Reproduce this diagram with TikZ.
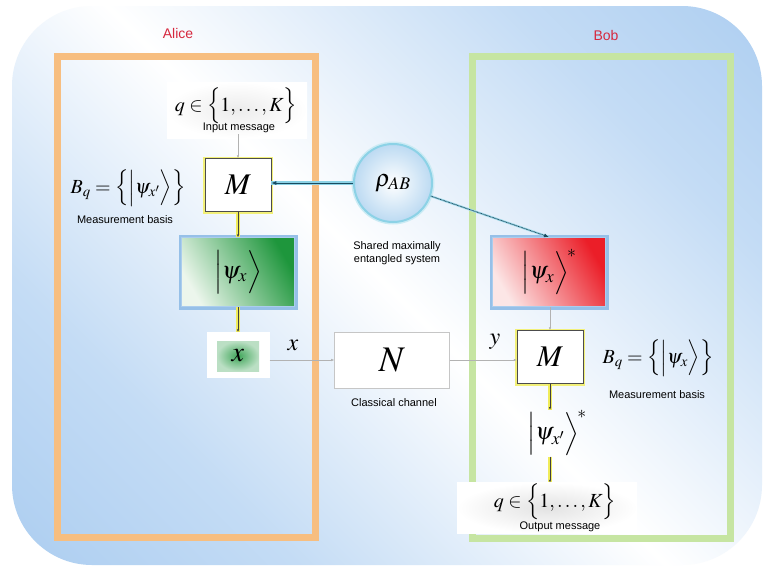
\documentclass[tikz,border=0pt]{standalone}
\usepackage{mathptmx}
\usepackage{fontspec}
\setmainfont{Liberation Sans}
\usetikzlibrary{arrows.meta}
\definecolor{bgblue}{RGB}{150,192,236}
\definecolor{bgmid}{RGB}{196,220,245}
\definecolor{alicered}{RGB}{214,40,62}
\definecolor{frameorange}{RGB}{247,190,128}
\definecolor{framegreen}{RGB}{198,229,162}
\definecolor{mborder}{RGB}{242,240,120}
\definecolor{glowblue}{RGB}{150,192,232}
\definecolor{boxgreen}{RGB}{30,150,60}
\definecolor{boxgreenlight}{RGB}{236,246,236}
\definecolor{boxred}{RGB}{235,30,40}
\definecolor{boxredlight}{RGB}{252,230,230}
\definecolor{tealdark}{RGB}{25,75,95}
\definecolor{glowcyan}{RGB}{140,210,230}
\definecolor{ballblue}{RGB}{188,218,242}
\definecolor{yband}{RGB}{240,236,90}
\pgfdeclarehorizontalshading{bgdiag}{100bp}{color(0bp)=(bgblue); color(30bp)=(bgmid); color(50bp)=(white); color(72bp)=(bgmid); color(100bp)=(bgblue)}
\begin{document}
\begin{tikzpicture}[x=1pt,y=-1pt,
  smalltext/.style={font=\fontsize{11}{13}\selectfont, inner sep=1pt},
  partylabel/.style={font=\fontsize{14}{16}\selectfont, text=alicered, inner sep=1pt},
  mathlabel/.style={font=\fontsize{20}{24}\selectfont, inner sep=1pt},
  mbox/.style={draw=gray!60!black, line width=0.5pt, fill=white, minimum width=66pt, minimum height=53pt, inner sep=0pt,
    preaction={draw=mborder, line width=4pt}, font=\fontsize{30}{34}\selectfont},
  statebox/.style={minimum width=113pt, minimum height=69pt, inner sep=0pt,
    preaction={draw=glowblue, line width=6pt}, draw=glowblue!80!white, line width=1pt, font=\fontsize{24}{28}\selectfont},
  patch/.style={inner sep=0pt},
  yellowlink/.style={draw=gray!50!black, line width=0.4pt, -{Latex[length=2.5pt,width=2.5pt]},
    preaction={draw=yband, line width=4pt, -}},
  thinlink/.style={draw=gray!60, line width=0.5pt, -{Latex[length=3pt,width=2.5pt]}},
  glowarrow/.style={draw=tealdark, line width=0.9pt, -{Latex[length=5pt,width=4pt]},
    preaction={draw=glowcyan, line width=3.5pt, -}},
  dotarrow/.style={draw=tealdark, line width=0.8pt, dash pattern=on 0.8pt off 0.6pt, -{Latex[length=5pt,width=4pt]},
    preaction={draw=glowcyan!80, line width=2.2pt, -}},
  frameA/.style={draw=frameorange, line width=7pt},
  frameB/.style={draw=framegreen, line width=7pt}
]
\useasboundingbox (0,0) rectangle (765,568);
\fill[white] (0,0) rectangle (765,568);
\shade[shading=bgdiag, shading angle=45, rounded corners=80pt] (12,6) rectangle (762,565);

% frames
\draw[frameA] (57,56) rectangle (315,537);
\draw[frameB] (472,56) rectangle (730,538);
\node[partylabel] (alice) at (178,33) {Alice};
\node[partylabel] (bob) at (606,35) {Bob};

% patches
\node[patch, shade, inner color=gray!15, outer color=white, minimum width=140pt, minimum height=56pt] (inpatch) at (237,110) {};
\node[patch, shade, inner color=gray!22, outer color=white, minimum width=180pt, minimum height=51pt] (outpatch) at (547,508) {};

% Alice side
\node[mathlabel] (qin) at (236,106) {$q\in\Big\{1,\ldots,K\Big\}$};
\node[smalltext] (inmsg) at (239,128) {Input message};
\node[mbox] (Ma) at (238,185) {$M$};
\node[mathlabel] (Bqa) at (128,188) {$B_q=\Big\{\Big|\psi_{x'}\Big\rangle\Big\}$};
\node[smalltext] (measa) at (125,220) {Measurement basis};
\node[statebox, shade, left color=boxgreenlight, right color=boxgreen, shading angle=120] (gbox) at (238,272) {$\Big|\psi_x\Big\rangle$};
\node[fill=white, minimum width=63pt, minimum height=46pt, inner sep=0pt] (xbox) at (238,355) {};
\node[shade, inner color=boxgreen!85, outer color=boxgreen!30, minimum width=42pt, minimum height=30pt, inner sep=0pt, font=\fontsize{28}{30}\selectfont] (xin) at (238,356) {$x$};
\node[mathlabel, font=\fontsize{24}{26}\selectfont] (xlab) at (293,345) {$x$};

% shared system
\node[circle, minimum size=78pt, inner sep=0pt, inner color=white, outer color=ballblue, draw=glowcyan, line width=2pt,
  preaction={draw=glowcyan!45, line width=5pt}, font=\fontsize{24}{28}\selectfont] (rho) at (393,183) {$\rho_{AB}$};
\node[smalltext, align=center] (shared) at (397,253) {Shared maximally\\entangled system};

% channel
\node[draw=gray!45, fill=white, line width=0.6pt, minimum width=115pt, minimum height=56pt, inner sep=0pt, font=\fontsize{36}{40}\selectfont] (N) at (392,360) {$N$};
\node[smalltext] (chan) at (394,403) {Classical channel};
\node[mathlabel, font=\fontsize{24}{26}\selectfont] (ylab) at (495,342) {$y$};

% Bob side
\node[statebox, shade, left color=boxredlight, right color=boxred, shading angle=120] (rbox) at (549,272) {$\Big|\psi_x\Big\rangle^{\!*}$};
\node[mbox] (Mb) at (550,357) {$M$};
\node[mathlabel] (Bqb) at (658,358) {$B_q=\Big\{\Big|\psi_{x}\Big\rangle\Big\}$};
\node[smalltext] (measb) at (657,395) {Measurement basis};
\node[mathlabel, font=\fontsize{24}{28}\selectfont] (ketb) at (557,433) {$\Big|\psi_{x'}\Big\rangle^{\!*}$};
\node[mathlabel] (qout) at (555,502) {$q\in\Big\{1,\ldots,K\Big\}$};
\node[smalltext] (outmsg) at (560,527) {Output message};

% connectors
\draw[thinlink] (inmsg.south -| Ma.north) -- (Ma.north);
\draw[yellowlink] (Ma.south) -- (gbox.north -| Ma.south);
\draw[yellowlink] (gbox.south -| Ma.south) -- (xbox.north -| Ma.south);
\draw[glowarrow] (rho.west) -- (rho.west -| Ma.east);
\draw[dotarrow] (rho) -- (rbox.north);
\draw[thinlink] (xbox.east |- N.west) -- (N.west);
\draw[thinlink] (N.east) -- (N.east -| Mb.west);
\draw[thinlink] (rbox.south -| Mb.north) -- (Mb.north);
\draw[yellowlink] (Mb.south) -- (ketb.north -| Mb.south);
\draw[yellowlink] (ketb.south -| Mb.south) -- (outpatch.north -| Mb.south);
\end{tikzpicture}
\end{document}
